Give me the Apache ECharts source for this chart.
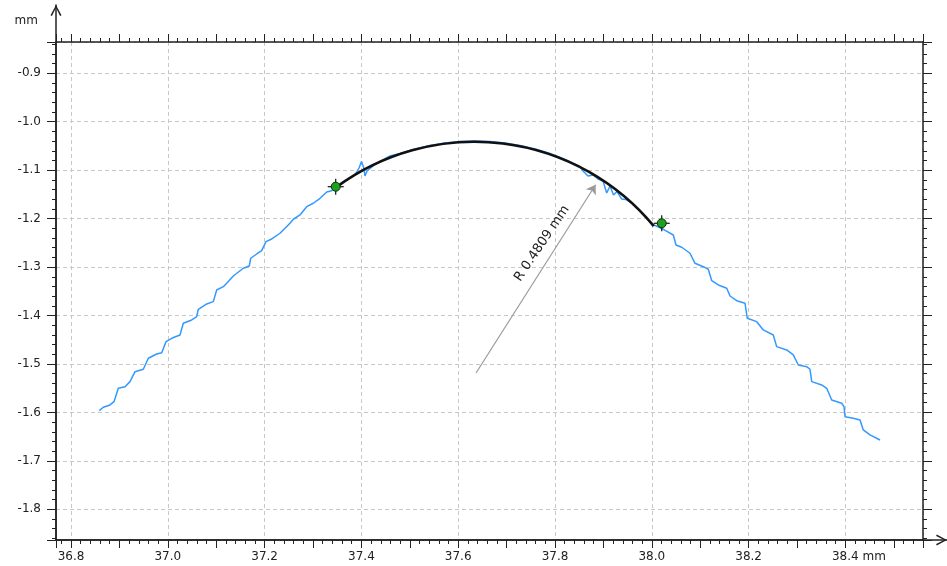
<!DOCTYPE html>
<html><head><meta charset="utf-8">
<script src="https://cdn.jsdelivr.net/npm/echarts@6/dist/echarts.min.js"></script>
<style>html,body{margin:0;padding:0;background:#fff}#c{width:947px;height:566px}</style>
</head><body><div id="c"></div>
<script>
// ---- data ----
const blueX = [
36.8585, 36.8667, 36.8806, 36.8888, 36.8977, 36.9116, 36.9219, 36.9322, 36.9494, 36.9597, 36.9771, 36.9874, 36.9963, 37.0081, 37.0252, 37.0320, 37.0494, 37.0597, 37.0630, 37.0804, 37.0940, 37.1010, 37.1147, 37.1217, 37.1353, 37.1560, 37.1684, 37.1713, 37.1837, 37.1940, 37.2029, 37.2147, 37.2318, 37.2525, 37.2593, 37.2731, 37.2870, 37.3006, 37.3145, 37.3283, 37.3386, 37.3490,
37.3600, 37.3765, 37.3868, 37.3950, 37.4002, 37.4043, 37.4074, 37.4116, 37.4281, 37.4591, 37.4798, 37.5108, 37.5418, 37.5728, 37.6038, 37.6348, 37.6657, 37.6967, 37.7277, 37.7587, 37.7897, 37.8207, 37.8517, 37.8579, 37.8682, 37.8785, 37.8888, 37.8992, 37.9068, 37.9136, 37.9209, 37.9281, 37.9374, 37.9467, 37.9591, 37.9756, 37.9901, 38.0045,
38.0238, 38.0444, 38.0500, 38.0618, 38.0789, 38.0893, 38.1064, 38.1167, 38.1238, 38.1374, 38.1548, 38.1616, 38.1754, 38.1926, 38.1973, 38.2167, 38.2304, 38.2510, 38.2580, 38.2787, 38.2923, 38.3027, 38.3200, 38.3268, 38.3304, 38.3510, 38.3614, 38.3717, 38.3923, 38.3971, 38.3992, 38.4163, 38.4302, 38.4370, 38.4508, 38.4715];
const blueY = [
-1.5964, -1.5894, -1.5846, -1.5778, -1.5502, -1.5469, -1.5365, -1.5159, -1.5109, -1.4882, -1.4794, -1.4767, -1.4540, -1.4470, -1.4401, -1.4160, -1.4092, -1.4024, -1.3871, -1.3762, -1.3714, -1.3473, -1.3405, -1.3334, -1.3184, -1.3025, -1.2977, -1.2818, -1.2730, -1.2661, -1.2476, -1.2420, -1.2302, -1.2096, -1.2013, -1.1925, -1.1753, -1.1683, -1.1580, -1.1450, -1.1423, -1.1353,
-1.1264, -1.1161, -1.1099, -1.0955, -1.0820, -1.0934, -1.1120, -1.1017, -1.0882, -1.0707, -1.0655, -1.0562, -1.0490, -1.0439, -1.0408, -1.0397, -1.0408, -1.0439, -1.0490, -1.0562, -1.0655, -1.0779, -1.0923, -1.1017, -1.1120, -1.1099, -1.1182, -1.1223, -1.1471, -1.1326, -1.1512, -1.1440, -1.1594, -1.1605, -1.1677, -1.1842, -1.2007, -1.2131,
-1.2220, -1.2338, -1.2544, -1.2591, -1.2715, -1.2922, -1.2992, -1.3045, -1.3281, -1.3370, -1.3438, -1.3597, -1.3694, -1.3747, -1.4057, -1.4127, -1.4298, -1.4402, -1.4643, -1.4711, -1.4814, -1.5021, -1.5056, -1.5109, -1.5365, -1.5433, -1.5502, -1.5743, -1.5811, -1.5881, -1.6088, -1.6121, -1.6156, -1.6362, -1.6465, -1.6569];

const markerX = [37.3469, 38.0205];
const markerY = [-1.1341, -1.2096];

const arcCenter = [37.6335, -1.5217];
const arcRadius = 0.4809;
const arcAnglesDeg = [126.4, 39.6];

const arrowFrom = [37.6368, -1.5186];
const arrowTo = [37.8839, -1.1301];
const radiusText = 'R 0.4809 mm';
const radiusTextPos = [37.7731, -1.2513];
const radiusTextAngle = 56;

const xTickLabels = [36.8, 37.0, 37.2, 37.4, 37.6, 37.8, 38.0, 38.2, 38.4];
const yTickLabels = [-1.8, -1.7, -1.6, -1.5, -1.4, -1.3, -1.2, -1.1, -1.0, -0.9];
const xRange = [36.769, 38.5603];
const yRange = [-1.8634, -0.8354];
const unitText = 'mm';

// ---- chart ----
const FONT = 'DejaVu Sans';
const AX = '#222';
const chevron = 'path://M6,0 L12,11 L10.4,11.8 L6,3 L1.6,11.8 L0,11 Z';
const has = (arr, v) => arr.some(t => Math.abs(t - v) < 1e-6);

function xFmt(v) {
  if (!has(xTickLabels, v)) return '';
  const s = v.toFixed(1);
  if (Math.abs(v - xTickLabels[xTickLabels.length - 1]) < 1e-6) return '{pad|\u00a0}' + s + ' ' + unitText;
  return s;
}
function yFmt(v) { return has(yTickLabels, v) ? v.toFixed(1) : ''; }

const tickAxisBase = (extra) => Object.assign({
  type: 'value', gridIndex: 0,
  axisLine: { show: false, onZero: false },
  axisTick: { show: true, length: 8, lineStyle: { color: AX, width: 1 } },
  axisLabel: { show: false },
  splitLine: { show: false }
}, extra);

const chart = echarts.init(document.getElementById('c'));
chart.setOption({
  animation: false,
  backgroundColor: '#fff',
  grid: [
    { left: 56, right: 24, top: 42, bottom: 26 },
    { left: 56, right: -3, top: 5, bottom: 26 }
  ],
  xAxis: [
    tickAxisBase({
      position: 'bottom', min: xRange[0], max: xRange[1], splitNumber: 9,
      axisLine: { show: true, onZero: false, lineStyle: { color: AX, width: 1.5 } },
      minorTick: { show: true, splitNumber: 10, length: 4, lineStyle: { color: AX } },
      splitLine: { show: true, lineStyle: { color: '#c8c8c8', type: [4, 3], width: 1 } },
      axisLabel: { show: true, margin: 11, color: AX, fontFamily: FONT, fontSize: 12,
        showMinLabel: false, showMaxLabel: false, formatter: xFmt,
        rich: { pad: { width: 27, fontFamily: FONT, fontSize: 12 } } }
    }),
    tickAxisBase({ position: 'bottom', min: xRange[0], max: xRange[1], splitNumber: 18 }),
    tickAxisBase({
      position: 'top', min: xRange[0], max: xRange[1], splitNumber: 9,
      axisLine: { show: true, onZero: false, lineStyle: { color: AX, width: 1.5 } },
      minorTick: { show: true, splitNumber: 10, length: 4, lineStyle: { color: AX } }
    }),
    tickAxisBase({ position: 'top', min: xRange[0], max: xRange[1], splitNumber: 18 }),
    {
      type: 'value', gridIndex: 1, min: 0, max: 1, position: 'bottom',
      axisLine: { show: true, onZero: false, symbol: ['none', chevron], symbolSize: [11, 11], symbolOffset: [0, -5.5],
        lineStyle: { color: AX, width: 1.5 } },
      axisTick: { show: false }, axisLabel: { show: false }, splitLine: { show: false }
    }
  ],
  yAxis: [
    tickAxisBase({
      position: 'left', min: yRange[0], max: yRange[1], splitNumber: 10,
      name: unitText, nameLocation: 'end', nameGap: 15,
      nameTextStyle: { color: AX, fontFamily: FONT, fontSize: 12, align: 'right', verticalAlign: 'bottom', padding: [0, 18, 0, 0] },
      axisLine: { show: true, onZero: false, lineStyle: { color: AX, width: 1.5 } },
      axisTick: { show: true, length: 9, lineStyle: { color: AX } },
      minorTick: { show: true, splitNumber: 5, length: 4, lineStyle: { color: AX } },
      splitLine: { show: true, lineStyle: { color: '#c8c8c8', type: [4, 3], width: 1 } },
      axisLabel: { show: true, margin: 15, color: AX, fontFamily: FONT, fontSize: 12,
        showMinLabel: false, showMaxLabel: false, formatter: yFmt }
    }),
    tickAxisBase({
      position: 'right', min: yRange[0], max: yRange[1], splitNumber: 10,
      axisLine: { show: true, onZero: false, lineStyle: { color: AX, width: 1.5 } },
      axisTick: { show: true, length: 9, lineStyle: { color: AX } },
      minorTick: { show: true, splitNumber: 5, length: 4, lineStyle: { color: AX } }
    }),
    {
      type: 'value', gridIndex: 1, min: 0, max: 1, position: 'left',
      axisLine: { show: true, onZero: false, symbol: ['none', chevron], symbolSize: [11, 11], symbolOffset: [0, -5.5],
        lineStyle: { color: AX, width: 1.5 } },
      axisTick: { show: false }, axisLabel: { show: false }, splitLine: { show: false }
    }
  ],
  series: [
    {
      type: 'line', xAxisIndex: 0, yAxisIndex: 0, z: 2,
      data: blueX.map((x, i) => [x, blueY[i]]),
      showSymbol: false, symbol: 'none',
      lineStyle: { color: '#3399ff', width: 1.5 }, silent: true
    },
    {
      type: 'custom', xAxisIndex: 0, yAxisIndex: 0, z: 3, silent: true,
      data: [[arcCenter[0], arcCenter[1]]],
      renderItem: function (params, api) {
        const c = api.coord([api.value(0), api.value(1)]);
        const r = api.size([arcRadius, 0])[0];
        return {
          type: 'arc',
          shape: { cx: c[0], cy: c[1], r: r,
            startAngle: -arcAnglesDeg[0] * Math.PI / 180,
            endAngle: -arcAnglesDeg[1] * Math.PI / 180, clockwise: true },
          style: { stroke: '#111', lineWidth: 2.6, fill: null }
        };
      }
    },
    {
      type: 'lines', coordinateSystem: 'cartesian2d', xAxisIndex: 0, yAxisIndex: 0, z: 4, silent: true,
      data: [{ coords: [arrowFrom, arrowTo] }],
      symbol: ['none', 'arrow'], symbolSize: 9,
      lineStyle: { color: '#9a9a9a', width: 1.2, opacity: 1 }
    },
    {
      type: 'custom', xAxisIndex: 0, yAxisIndex: 0, z: 5, silent: true,
      data: markerX.map((x, i) => [x, markerY[i]]),
      renderItem: function (params, api) {
        const p = api.coord([api.value(0), api.value(1)]);
        return {
          type: 'group',
          children: [
            { type: 'line', shape: { x1: p[0] - 8, y1: p[1], x2: p[0] + 8, y2: p[1] }, style: { stroke: '#111', lineWidth: 1.2 } },
            { type: 'line', shape: { x1: p[0], y1: p[1] - 8, x2: p[0], y2: p[1] + 8 }, style: { stroke: '#111', lineWidth: 1.2 } },
            { type: 'circle', shape: { cx: p[0], cy: p[1], r: 4.5 }, style: { fill: '#1fa01f', stroke: '#0a300a', lineWidth: 1 } }
          ]
        };
      }
    },
    {
      type: 'custom', xAxisIndex: 0, yAxisIndex: 0, z: 6, silent: true,
      data: [[radiusTextPos[0], radiusTextPos[1]]],
      renderItem: function (params, api) {
        const p = api.coord([api.value(0), api.value(1)]);
        return {
          type: 'text', x: p[0], y: p[1], rotation: radiusTextAngle * Math.PI / 180,
          style: { text: radiusText, fill: '#222', fontFamily: FONT, fontSize: 13,
            align: 'center', verticalAlign: 'middle', textAlign: 'center', textVerticalAlign: 'middle' }
        };
      }
    }
  ]
});
</script>
</body></html>
